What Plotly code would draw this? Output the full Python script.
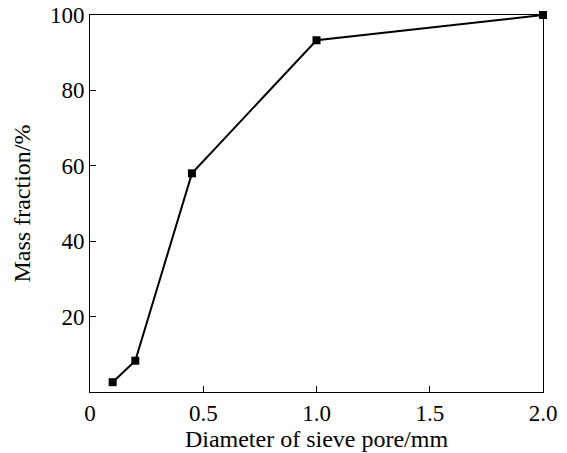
import plotly.graph_objects as go

diameter = [0.1, 0.2, 0.45, 1.0, 2.0]
mass_fraction = [2.6, 8.3, 58.0, 93.3, 100.0]
x_ticks = [0, 0.5, 1.0, 1.5, 2.0]
x_tick_labels = ["0", "0.5", "1.0", "1.5", "2.0"]
y_ticks = [20, 40, 60, 80, 100]

fam = "Liberation Serif, Times New Roman, serif"
tick_font = dict(family=fam, size=23, color="black")
title_font = dict(family=fam, size=24, color="black")

fig = go.Figure()
fig.add_trace(go.Scatter(
    x=diameter, y=mass_fraction, mode="lines+markers",
    line=dict(color="black", width=2),
    marker=dict(symbol="square", size=8, color="black"),
    cliponaxis=False, showlegend=False,
))

fig.update_layout(
    width=567, height=453,
    margin=dict(l=90, r=24, t=15, b=61, autoexpand=False),
    paper_bgcolor="white", plot_bgcolor="white",
    font=tick_font,
    xaxis=dict(range=[0, 2.0], tickvals=x_ticks, ticktext=x_tick_labels,
               ticks="inside", ticklen=6, tickcolor="black", tickwidth=1,
               showline=True, linecolor="black", linewidth=1, mirror=True,
               showgrid=False, zeroline=False, automargin=False,
               tickfont=tick_font,
               title=dict(text="Diameter of sieve pore/mm", standoff=3, font=title_font)),
    yaxis=dict(range=[0, 100], tickvals=y_ticks,
               ticks="inside", ticklen=6, tickcolor="black", tickwidth=1,
               showline=True, linecolor="black", linewidth=1, mirror=True,
               showgrid=False, zeroline=False, automargin=False,
               tickfont=tick_font,
               title=dict(text="Mass fraction/%", standoff=12, font=title_font)),
)
fig.write_html("out.html")
